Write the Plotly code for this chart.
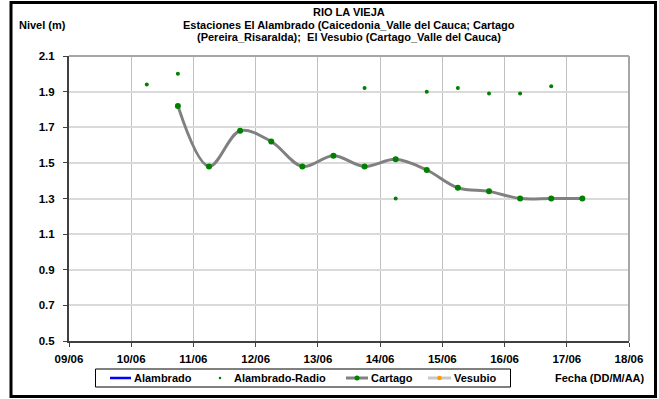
import plotly.graph_objects as go

# ---- data ----
cartago_x = ["2010-06-10 18:00", "2010-06-11 06:00", "2010-06-11 18:00", "2010-06-12 06:00",
             "2010-06-12 18:00", "2010-06-13 06:00", "2010-06-13 18:00", "2010-06-14 06:00",
             "2010-06-14 18:00", "2010-06-15 06:00", "2010-06-15 18:00", "2010-06-16 06:00",
             "2010-06-16 18:00", "2010-06-17 06:00"]
cartago_y = [1.82, 1.48, 1.68, 1.62, 1.48, 1.54, 1.48, 1.52, 1.46, 1.36, 1.34, 1.30, 1.30, 1.30]

radio_x = ["2010-06-10 06:00", "2010-06-10 18:00", "2010-06-13 18:00", "2010-06-14 06:00",
           "2010-06-14 18:00", "2010-06-15 06:00", "2010-06-15 18:00", "2010-06-16 06:00",
           "2010-06-16 18:00"]
radio_y = [1.94, 2.00, 1.92, 1.30, 1.90, 1.92, 1.89, 1.89, 1.93]

alambrado_x = []
alambrado_y = []
vesubio_x = []
vesubio_y = []

y_ticks = [0.5, 0.7, 0.9, 1.1, 1.3, 1.5, 1.7, 1.9, 2.1]
x_ticks = ["2010-06-09", "2010-06-10", "2010-06-11", "2010-06-12", "2010-06-13",
           "2010-06-14", "2010-06-15", "2010-06-16", "2010-06-17", "2010-06-18"]
x_tick_labels = ["09/06", "10/06", "11/06", "12/06", "13/06", "14/06", "15/06", "16/06", "17/06", "18/06"]
x_range = ["2010-06-09", "2010-06-18"]

title_lines = ["RIO LA VIEJA",
               "Estaciones El Alambrado (Caicedonia_Valle del Cauca; Cartago",
               "(Pereira_Risaralda);  El Vesubio (Cartago_Valle del Cauca)"]
legend_names = ["Alambrado", "Alambrado-Radio", "Cartago", "Vesubio"]

# ---- layout geometry (pixels) ----
W, H = 659, 399
L, R, T, B = 69, 629, 56, 341
FONT = "Liberation Sans, Arial, sans-serif"


def px(x):
    return (x - L) / (R - L)


def py(y):
    return (B - y) / (B - T)


fig = go.Figure()
fig.add_trace(go.Scatter(x=alambrado_x, y=alambrado_y, mode="lines",
                         line=dict(color="#0000ff", width=2), showlegend=False))
fig.add_trace(go.Scatter(x=radio_x, y=radio_y, mode="markers",
                         marker=dict(color="#008000", size=4), showlegend=False))
fig.add_trace(go.Scatter(x=cartago_x, y=cartago_y, mode="lines+markers",
                         line=dict(color="#808080", width=3, shape="spline", smoothing=1),
                         marker=dict(color="#008000", size=6), showlegend=False))
fig.add_trace(go.Scatter(x=vesubio_x, y=vesubio_y, mode="lines+markers",
                         line=dict(color="#c0c0c0", width=3),
                         marker=dict(color="#ff9900", size=5), showlegend=False))

shapes = []
# outer frame
shapes.append(dict(type="rect", xref="paper", yref="paper",
                   x0=px(11), x1=px(655.5), y0=py(396.5), y1=py(2.5),
                   line=dict(color="black", width=3), layer="above"))
# plot area grey border (top/right)
shapes.append(dict(type="line", xref="paper", yref="paper", x0=0, x1=1, y0=1, y1=1,
                   line=dict(color="#a6a6a6", width=2)))
shapes.append(dict(type="line", xref="paper", yref="paper", x0=1, x1=1, y0=0, y1=1,
                   line=dict(color="#a6a6a6", width=2)))
# legend box
shapes.append(dict(type="rect", xref="paper", yref="paper",
                   x0=px(95.5), x1=px(510.5), y0=py(387), y1=py(369),
                   line=dict(color="black", width=1)))
ly = py(378)
shapes.append(dict(type="line", xref="paper", yref="paper", x0=px(110), x1=px(131), y0=ly, y1=ly,
                   line=dict(color="#0000ff", width=2.5)))
shapes.append(dict(type="line", xref="paper", yref="paper", x0=px(346), x1=px(368), y0=ly, y1=ly,
                   line=dict(color="#808080", width=3)))
shapes.append(dict(type="line", xref="paper", yref="paper", x0=px(428), x1=px(451), y0=ly, y1=ly,
                   line=dict(color="#c8c8c8", width=3)))


def dot(cx, cy, r, color):
    return dict(type="circle", xref="paper", yref="paper",
                x0=px(cx - r), x1=px(cx + r), y0=py(cy + r), y1=py(cy - r),
                fillcolor=color, line=dict(width=0))


shapes.append(dot(220, 378, 1.3, "#008000"))
shapes.append(dot(357, 378, 2.5, "#008000"))
shapes.append(dot(439.5, 378, 2.3, "#ff9900"))

annotations = []
for i, (t, yy) in enumerate(zip(title_lines, [12, 24.5, 37])):
    annotations.append(dict(text="<b>%s</b>" % t, xref="paper", yref="paper",
                            x=px(349), y=py(yy), xanchor="center", yanchor="middle",
                            showarrow=False, font=dict(family=FONT, size=11, color="black")))
annotations.append(dict(text="<b>Nivel (m)</b>", xref="paper", yref="paper",
                        x=px(17), y=py(25), xanchor="left", yanchor="middle",
                        showarrow=False, font=dict(family=FONT, size=11, color="black")))
annotations.append(dict(text="<b>Fecha (DD/M/AA)</b>", xref="paper", yref="paper",
                        x=px(647), y=py(378), xanchor="right", yanchor="middle",
                        showarrow=False, font=dict(family=FONT, size=11, color="black")))
for name, xx in zip(legend_names, [132, 232, 369, 452]):
    annotations.append(dict(text="<b>%s</b>" % name, xref="paper", yref="paper",
                            x=px(xx), y=ly, xanchor="left", yanchor="middle",
                            showarrow=False, font=dict(family=FONT, size=11, color="black")))

fig.update_layout(
    width=W, height=H,
    margin=dict(l=L, r=W - R, t=T, b=H - B, pad=0, autoexpand=False),
    paper_bgcolor="white", plot_bgcolor="white",
    font=dict(family=FONT, size=11, color="black"),
    shapes=shapes, annotations=annotations,
    showlegend=False,
    xaxis=dict(type="date", range=x_range, tickvals=x_ticks,
               ticktext=["<b>%s</b>" % t for t in x_tick_labels],
               showgrid=True, gridcolor="#c0c0c0", gridwidth=1,
               showline=True, linecolor="#404040", linewidth=2,
               ticks="outside", ticklen=4, tickcolor="#404040", tickwidth=1,
               ticklabelstandoff=2,
               tickfont=dict(family=FONT, size=11.5, color="black"),
               zeroline=False, fixedrange=True, automargin=False),
    yaxis=dict(range=[0.5, 2.1], tickvals=y_ticks,
               ticktext=["<b>%.1f</b>" % v for v in y_ticks],
               showgrid=True, gridcolor="#dadada", gridwidth=2,
               showline=True, linecolor="#404040", linewidth=2,
               ticks="outside", ticklen=4, tickcolor="#404040", tickwidth=1,
               ticklabelstandoff=6,
               tickfont=dict(family=FONT, size=11.5, color="black"),
               zeroline=False, fixedrange=True, automargin=False),
)

fig.write_html("out.html", config={"displayModeBar": False},
               post_script="document.body.style.margin='0';document.body.style.overflow='hidden';")
